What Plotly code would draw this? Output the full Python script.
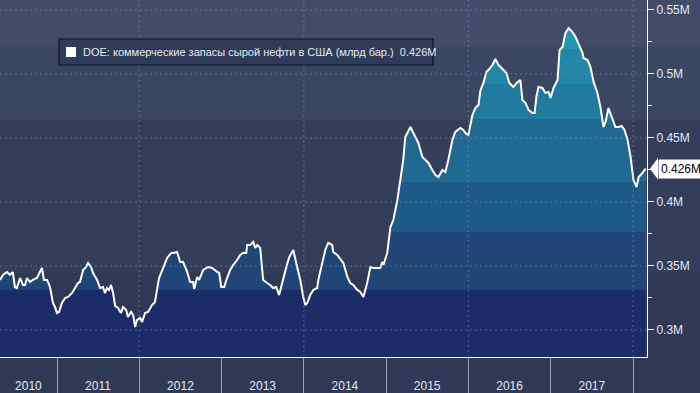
import numpy as np
import plotly.graph_objects as go

# ---------------- data ----------------
dates = [
    "2010-04-23", "2010-05-06", "2010-05-24", "2010-06-06", "2010-06-19", "2010-06-28", "2010-07-07",
    "2010-07-21", "2010-08-03", "2010-08-12", "2010-08-21", "2010-09-03", "2010-09-16", "2010-10-04",
    "2010-10-17", "2010-10-26", "2010-11-04", "2010-11-18", "2010-12-01", "2010-12-14", "2010-12-23",
    "2011-01-01", "2011-01-10", "2011-01-23", "2011-02-06", "2011-02-19", "2011-03-09", "2011-03-22",
    "2011-04-04", "2011-04-13", "2011-04-27", "2011-05-10", "2011-05-19", "2011-06-01", "2011-06-10",
    "2011-06-28", "2011-07-11", "2011-07-24", "2011-08-02", "2011-08-11", "2011-08-20", "2011-08-29",
    "2011-09-07", "2011-09-16", "2011-09-29", "2011-10-12", "2011-10-21", "2011-11-04", "2011-11-12",
    "2011-11-26", "2011-12-05", "2011-12-14", "2011-12-22", "2012-01-05", "2012-01-14", "2012-01-27",
    "2012-02-09", "2012-02-27", "2012-03-11", "2012-03-20", "2012-03-29", "2012-04-16", "2012-05-04",
    "2012-05-22", "2012-05-30", "2012-06-17", "2012-07-01", "2012-07-14", "2012-08-01", "2012-08-14",
    "2012-08-27", "2012-09-01", "2012-09-14", "2012-09-23", "2012-10-11", "2012-11-02", "2012-11-20",
    "2012-12-12", "2012-12-21", "2012-12-30", "2013-01-12", "2013-01-25", "2013-02-08", "2013-02-21",
    "2013-03-11", "2013-03-24", "2013-04-06", "2013-04-20", "2013-04-24", "2013-05-08", "2013-05-21",
    "2013-05-30", "2013-06-08", "2013-06-21", "2013-07-04", "2013-07-22", "2013-08-04", "2013-08-18",
    "2013-08-31", "2013-09-13", "2013-10-01", "2013-10-15", "2013-10-28", "2013-11-15", "2013-12-02",
    "2013-12-16", "2013-12-29", "2014-01-07", "2014-01-16", "2014-01-29", "2014-02-12", "2014-03-01",
    "2014-03-06", "2014-03-24", "2014-04-06", "2014-04-19", "2014-05-07", "2014-05-11", "2014-05-29",
    "2014-06-11", "2014-06-25", "2014-07-13", "2014-07-26", "2014-08-08", "2014-08-26", "2014-09-08",
    "2014-09-22", "2014-10-09", "2014-10-23", "2014-11-05", "2014-11-23", "2014-12-06", "2014-12-15",
    "2014-12-20", "2015-01-06", "2015-01-20", "2015-02-02", "2015-02-20", "2015-03-05", "2015-03-18",
    "2015-03-27", "2015-04-19", "2015-05-02", "2015-05-24", "2015-06-11", "2015-06-24", "2015-07-08",
    "2015-07-25", "2015-08-08", "2015-08-21", "2015-09-08", "2015-09-21", "2015-10-04", "2015-10-22",
    "2015-11-04", "2015-11-27", "2015-12-10", "2015-12-19", "2016-01-01", "2016-01-19", "2016-02-01",
    "2016-02-15", "2016-02-24", "2016-03-08", "2016-03-21", "2016-03-30", "2016-04-17", "2016-04-30",
    "2016-05-14", "2016-06-05", "2016-06-18", "2016-07-01", "2016-07-19", "2016-08-02", "2016-08-19",
    "2016-08-28", "2016-09-11", "2016-09-24", "2016-10-12", "2016-10-21", "2016-10-29", "2016-11-07",
    "2016-11-25", "2016-12-08", "2016-12-22", "2016-12-31", "2017-01-13", "2017-01-31", "2017-02-09",
    "2017-02-22", "2017-03-07", "2017-03-21", "2017-04-07", "2017-04-21", "2017-05-04", "2017-05-22",
    "2017-05-26", "2017-06-13", "2017-06-26", "2017-07-10", "2017-07-27", "2017-08-10", "2017-08-23",
    "2017-09-01", "2017-09-14", "2017-10-02", "2017-10-15", "2017-10-29", "2017-11-11", "2017-11-24",
    "2017-12-08", "2017-12-21", "2018-01-03", "2018-01-17", "2018-01-26", "2018-02-12", "2018-02-26",
]

values = [
    0.3391, 0.3430, 0.3453, 0.3430, 0.3453, 0.3336, 0.3328,
    0.3406, 0.3352, 0.3352, 0.3406, 0.3375, 0.3391, 0.3406,
    0.3453, 0.3484, 0.3391, 0.3391, 0.3336, 0.3211, 0.3180,
    0.3133, 0.3141, 0.3211, 0.3250, 0.3258, 0.3289, 0.3328,
    0.3367, 0.3375, 0.3469, 0.3492, 0.3523, 0.3492, 0.3445,
    0.3391, 0.3328, 0.3336, 0.3289, 0.3328, 0.3313, 0.3352,
    0.3289, 0.3188, 0.3172, 0.3133, 0.3180, 0.3156, 0.3102,
    0.3141, 0.3117, 0.3023, 0.3078, 0.3094, 0.3063, 0.3133,
    0.3141, 0.3195, 0.3219, 0.3313, 0.3406, 0.3484, 0.3563,
    0.3602, 0.3602, 0.3609, 0.3531, 0.3531, 0.3453, 0.3375,
    0.3375, 0.3320, 0.3414, 0.3391, 0.3469, 0.3492, 0.3484,
    0.3453, 0.3445, 0.3336, 0.3336, 0.3406, 0.3469, 0.3508,
    0.3547, 0.3586, 0.3602, 0.3602, 0.3664, 0.3664, 0.3688,
    0.3641, 0.3664, 0.3641, 0.3391, 0.3367, 0.3352, 0.3328,
    0.3336, 0.3273, 0.3406, 0.3492, 0.3570, 0.3625, 0.3492,
    0.3391, 0.3258, 0.3195, 0.3211, 0.3273, 0.3313, 0.3328,
    0.3391, 0.3523, 0.3625, 0.3680, 0.3664, 0.3609, 0.3586,
    0.3555, 0.3523, 0.3414, 0.3367, 0.3352, 0.3313, 0.3297,
    0.3258, 0.3367, 0.3492, 0.3484, 0.3484, 0.3484, 0.3531,
    0.3508, 0.3602, 0.3805, 0.3859, 0.4016, 0.4172, 0.4328,
    0.4508, 0.4586, 0.4539, 0.4461, 0.4352, 0.4328, 0.4305,
    0.4250, 0.4211, 0.4195, 0.4250, 0.4234, 0.4328, 0.4484,
    0.4547, 0.4578, 0.4563, 0.4539, 0.4523, 0.4680, 0.4734,
    0.4758, 0.4875, 0.4930, 0.5016, 0.5031, 0.5070, 0.5117,
    0.5070, 0.5031, 0.5008, 0.4930, 0.4898, 0.4930, 0.4953,
    0.4797, 0.4773, 0.4719, 0.4695, 0.4695, 0.4820, 0.4898,
    0.4891, 0.4852, 0.4859, 0.4813, 0.4891, 0.4953, 0.5188,
    0.5211, 0.5320, 0.5359, 0.5328, 0.5289, 0.5242, 0.5164,
    0.5125, 0.5109, 0.5055, 0.4938, 0.4852, 0.4734, 0.4586,
    0.4625, 0.4734, 0.4656, 0.4586, 0.4586, 0.4594, 0.4563,
    0.4484, 0.4352, 0.4172, 0.4117, 0.4195, 0.4227, 0.4260,
]

series_name = "DOE: коммерческие запасы сырой нефти в США (млрд бар.)"

year_labels = ["2010", "2011", "2012", "2013", "2014", "2015", "2016", "2017"]
year_label_pos = ["2010-08-27", "2011-07-02", "2012-07-02", "2013-07-02", "2014-07-02",
                  "2015-07-02", "2016-07-02", "2017-07-02"]
year_bounds = ["2011-01-01", "2012-01-01", "2013-01-01", "2014-01-01", "2015-01-01",
               "2016-01-01", "2017-01-01", "2018-01-01"]
grid_dates = ["2012-01-01", "2014-01-01", "2016-01-01", "2018-01-01"]

y_ticks = [0.30, 0.35, 0.40, 0.45, 0.50, 0.55]
y_tick_text = ["0.3M", "0.35M", "0.4M", "0.45M", "0.5M", "0.55M"]

x_range = ["2010-04-23", "2018-03-04"]
y_range = [0.2789, 0.5578]

# value bands for the area fill (upper bound of each band, bottom to top)
fill_tops = [0.3313, 0.3766, 0.4156, 0.4648, 0.4920, 0.5195, 1.0]
fill_colors = ["#1c2c66", "#1f4677", "#1e5a86", "#206a92", "#217b9e", "#2287a6", "#2596b1"]

# value bands for the background above the line
bg_bands = [(0.3445, 0.4641, "#333f5a"), (0.4641, 0.5211, "#3a4762"), (0.5211, 0.60, "#414d68")]
paper_color = "#2e3a55"

text_color = "#e3e9f2"
grid_color = "rgba(110,150,185,0.55)"
font_family = "Liberation Sans, Arial, sans-serif"

# plot-area size in pixels (used to place the header box)
PW, PH = 647, 357

# ---------------- figure ----------------
v = np.array(values)
fig = go.Figure()

# stepped colour fill under the line: draw from top band to bottom band
for top, col in reversed(list(zip(fill_tops, fill_colors))):
    fig.add_trace(go.Scatter(
        x=dates, y=np.minimum(v, top), mode="lines", line=dict(width=0),
        fill="tozeroy", fillcolor=col, hoverinfo="skip", showlegend=False))

fig.add_trace(go.Scatter(
    x=dates, y=values, mode="lines", line=dict(color="white", width=2),
    showlegend=False, name=series_name))

shapes = []
for lo, hi, col in bg_bands:
    shapes.append(dict(type="rect", xref="paper", yref="y", x0=0, x1=1.2, y0=lo, y1=hi,
                       fillcolor=col, line=dict(width=0), layer="below"))
for yt in y_ticks:
    shapes.append(dict(type="line", xref="paper", yref="y", x0=0, x1=1, y0=yt, y1=yt,
                       line=dict(color=grid_color, width=1, dash="2px,3px"), layer="above"))
for gd in grid_dates:
    shapes.append(dict(type="line", xref="x", yref="paper", x0=gd, x1=gd, y0=0, y1=1,
                       line=dict(color=grid_color, width=1, dash="2px,3px"), layer="above"))

# header (legend-like) box with a white square key
shapes.append(dict(type="rect", xref="paper", yref="paper",
                   x0=59 / PW, x1=433 / PW, y0=1 - 65 / PH, y1=1 - 39 / PH,
                   fillcolor="#2f3c59", line=dict(color="#0e121a", width=1.2), layer="above"))
shapes.append(dict(type="rect", xref="paper", yref="paper",
                   x0=66 / PW, x1=76 / PW, y0=1 - 57 / PH, y1=1 - 47 / PH,
                   fillcolor="white", line=dict(width=0), layer="above"))

# pointer of the last-value tag
last = values[-1]
shapes.append(dict(type="path", xref="paper", yref="y",
                   path=f"M 1.0046,{last} L 1.0170,{last + 0.0085} L 1.0170,{last - 0.0085} Z",
                   fillcolor="white", line=dict(width=0), layer="above"))

annotations = [
    dict(xref="paper", yref="paper", x=81 / PW, y=1 - 52 / PH, xanchor="left", yanchor="middle",
         text=f"{series_name}\u00a0\u00a0{last:.3f}M", showarrow=False,
         font=dict(color=text_color, size=11, family=font_family)),
    dict(xref="paper", yref="y", x=1.0170, y=last, xanchor="left", yanchor="middle",
         text=f"{last:.3f}M", showarrow=False, bgcolor="white",
         font=dict(color="black", size=12, family=font_family), borderpad=2),
]

fig.update_layout(
    width=700, height=393,
    margin=dict(l=0, r=53, t=0, b=36, pad=0),
    paper_bgcolor=paper_color, plot_bgcolor="rgba(0,0,0,0)",
    font=dict(family=font_family, size=12, color=text_color),
    shapes=shapes,
    annotations=annotations,
    showlegend=False,
    xaxis=dict(type="date", range=x_range, showgrid=False, zeroline=False,
               showline=True, linecolor="white", linewidth=1,
               tickmode="array", tickvals=year_label_pos, ticktext=year_labels,
               ticks="outside", ticklen=18, tickcolor="rgba(0,0,0,0)",
               tickfont=dict(size=12, color=text_color),
               minor=dict(tickmode="array", tickvals=year_bounds, ticks="outside", ticklen=36,
                          tickcolor="#9aa3b2", tickwidth=1, showgrid=False)),
    yaxis=dict(side="right", range=y_range, showgrid=False, zeroline=False,
               showline=True, linecolor="white", linewidth=1,
               tickmode="array", tickvals=y_ticks, ticktext=y_tick_text,
               ticks="outside", ticklen=6, tickcolor="white",
               tickfont=dict(size=12, color=text_color),
               minor=dict(dtick=0.025, ticks="outside", ticklen=4, tickcolor="white", showgrid=False)),
)

fig.write_html("out.html", config={"displayModeBar": False},
               post_script="document.body.style.margin='0';document.body.style.overflow='hidden';")
